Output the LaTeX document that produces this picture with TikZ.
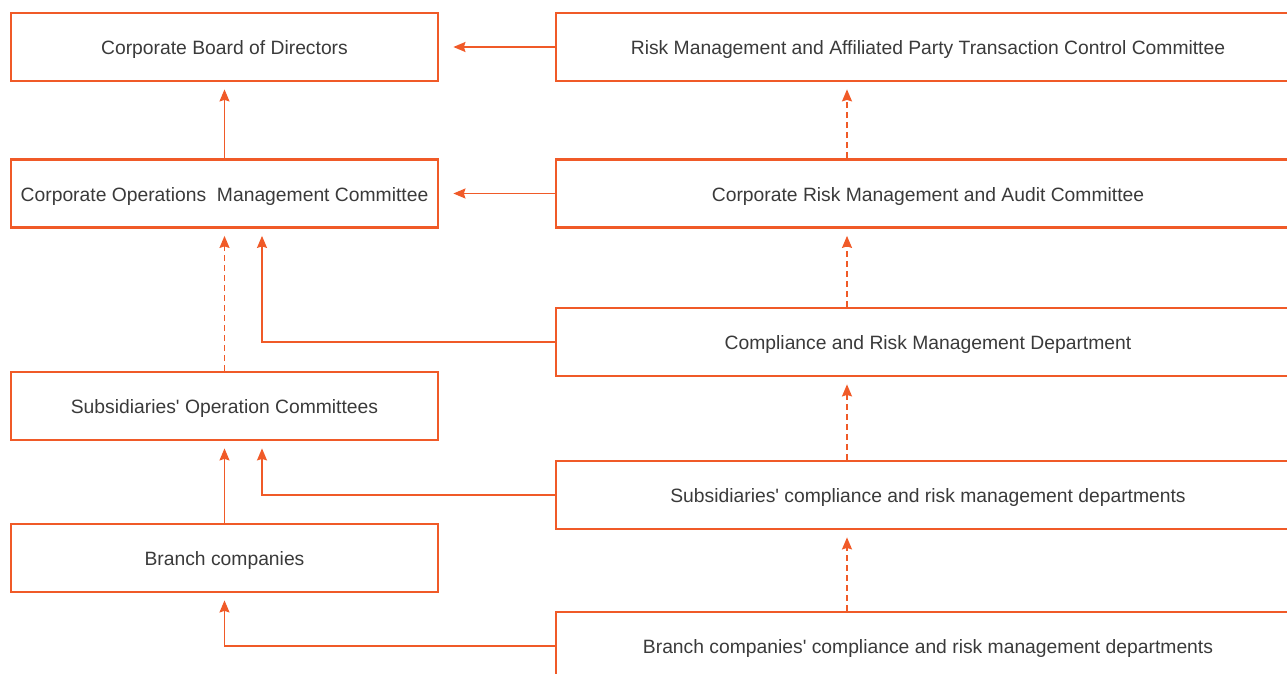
\documentclass[tikz,border=0pt]{standalone}
\usepackage{fontspec}
\setmainfont{Liberation Sans}[Ligatures=TeXOff]
\usetikzlibrary{arrows.meta,calc}
\definecolor{org}{HTML}{F05A28}
\definecolor{txt}{HTML}{3A3A3A}
\tikzset{
  lbox/.style={draw=org,line width=2.8pt,minimum width=427pt,minimum height=68pt,inner sep=0pt,text=txt,text height=19pt,text depth=4pt,font=\fontsize{19.3}{22}\selectfont},
  rbox/.style={lbox,minimum width=744pt},
  arr/.style={draw=org,line width=1.4pt,-{Stealth[length=12pt,width=10pt,inset=1.5pt]}},
  dsh/.style={arr,dash pattern=on 6pt off 4pt},
  vgap/.style={shorten >=7pt},
  hgap/.style={shorten >=14pt}
}
\begin{document}
\begin{tikzpicture}[x=1pt,y=-1pt]
\useasboundingbox (0,0) rectangle (1287,674);
\clip (0,0) rectangle (1287,674);
\node[lbox] (board) at (224.5,47) {Corporate Board of Directors};
\node[lbox] (ops) at (224.5,193.5) {Corporate Operations~ Management Committee};
\node[lbox] (sub) at (224.5,406) {Subsidiaries' Operation Committees};
\node[lbox] (branch) at (224.5,558) {Branch companies};
\node[rbox] (r1) at (928,47) {Risk Management and Affiliated Party Transaction Control Committee};
\node[rbox] (r2) at (928,193.5) {Corporate Risk Management and Audit Committee};
\node[rbox] (r3) at (928,342) {Compliance and Risk Management Department};
\node[rbox] (r4) at (928,495) {Subsidiaries' compliance and risk management departments};
\node[rbox] (r5) at (928,646) {Branch companies' compliance and risk management departments};
\coordinate (cx) at (847,0);
\coordinate (lx) at (262,0);
% left column
\draw[arr,hgap] (r1.west) -- (board.east);
\draw[arr,hgap] (r2.west) -- (ops.east);
\draw[arr,vgap] (ops.north) -- (board.south);
\draw[dsh,vgap] (sub.north) -- (ops.south);
\draw[arr,vgap] (branch.north) -- (sub.south);
% right column dashed
\draw[dsh,vgap] (r2.north -| cx) -- (r1.south -| cx);
\draw[dsh,vgap] (r3.north -| cx) -- (r2.south -| cx);
\draw[dsh,vgap] (r4.north -| cx) -- (r3.south -| cx);
\draw[dsh,vgap] (r5.north -| cx) -- (r4.south -| cx);
% elbows
\draw[arr,vgap] (r3.west) -| (ops.south -| lx);
\draw[arr,vgap] (r4.west) -| (sub.south -| lx);
\draw[arr,vgap] (r5.west) -| (branch.south);
\end{tikzpicture}
\end{document}
